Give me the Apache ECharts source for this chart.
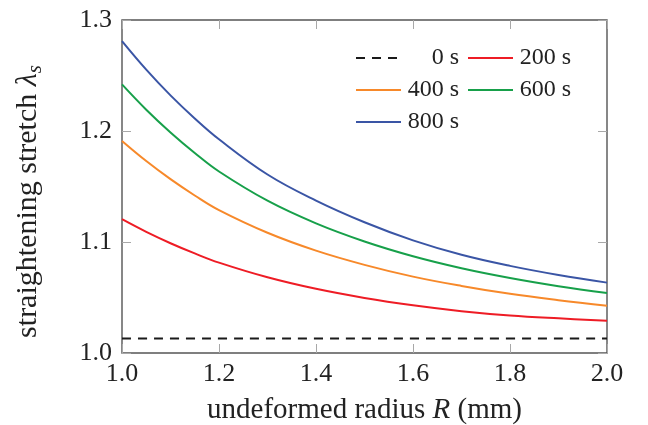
<!DOCTYPE html>
<html>
<head>
<meta charset="utf-8">
<script src="https://cdn.jsdelivr.net/npm/echarts@6/dist/echarts.min.js"></script>
<style>
  html, body { margin: 0; padding: 0; background: #fff; }
  #chart { width: 648px; height: 425px; }
</style>
</head>
<body>
<div id="chart"></div>
<script>
// Undeformed radius R (mm); denser sampling where the curves bend most
const radius = [1.0, 1.05, 1.1, 1.15, 1.2, 1.3, 1.4, 1.5, 1.6, 1.7, 1.8, 1.9, 2.0];

// Straightening stretch at each time
const stretch0s   = [1.013, 1.013, 1.013, 1.013, 1.013, 1.013, 1.013, 1.013, 1.013, 1.013, 1.013, 1.013, 1.013];
const stretch200s = [1.1205, 1.1091, 1.0989, 1.0897, 1.0814, 1.0682, 1.0578, 1.0496, 1.0430, 1.0377, 1.0338, 1.0312, 1.0291];
const stretch400s = [1.191, 1.1729, 1.1566, 1.1419, 1.1287, 1.1083, 1.0922, 1.0794, 1.0688, 1.0604, 1.0533, 1.0476, 1.0426];
const stretch600s = [1.242, 1.2192, 1.1987, 1.1802, 1.1635, 1.1372, 1.1168, 1.1005, 1.0872, 1.0764, 1.0676, 1.0602, 1.0540];
const stretch800s = [1.281, 1.2553, 1.2321, 1.2113, 1.1925, 1.1608, 1.1373, 1.1178, 1.1015, 1.0885, 1.0785, 1.0703, 1.0634];

const seriesNames = ['0 s', '200 s', '400 s', '600 s', '800 s'];
const xTicks = [1.0, 1.2, 1.4, 1.6, 1.8, 2.0];
const yTicks = [1.0, 1.1, 1.2, 1.3];

const serif = "'Liberation Serif', 'DejaVu Serif', serif";
const textColor = '#222';

const pairs = (ys) => radius.map((r, i) => [r, ys[i]]);

function lineSeries(name, ys, color, dashed) {
  return {
    name: name,
    type: 'line',
    data: pairs(ys),
    symbol: 'none',
    smooth: 0.4,
    lineStyle: { color: color, width: 2, type: dashed ? [9, 7] : 'solid' },
    itemStyle: { color: color },
    emphasis: { disabled: true },
    z: 3
  };
}

const tickStyle = { inside: true, length: 9, lineStyle: { color: '#a8a8a8', width: 1 } };

const nameFont = { fontFamily: serif, fontSize: 29, color: textColor };
const yNameFont = { fontFamily: serif, fontSize: 30, color: textColor };

const chart = echarts.init(document.getElementById('chart'), null, { renderer: 'canvas' });

chart.setOption({
  animation: false,
  backgroundColor: '#fff',
  grid: {
    left: 122, right: 41, top: 20, bottom: 72,
    outerBoundsMode: 'none',
    show: true, borderColor: '#555', borderWidth: 1.4, backgroundColor: 'transparent'
  },
  legend: {
    data: seriesNames,
    orient: 'horizontal',
    left: 355, top: 46, width: 216,
    padding: 0,
    itemWidth: 45, itemHeight: 22, itemGap: 8,
    selectedMode: false,
    itemStyle: { opacity: 0 },
    formatter: (name) => '{t|' + name + '}',
    textStyle: {
      fontFamily: serif, fontSize: 24, color: textColor,
      rich: { t: { width: 53, align: 'right', fontFamily: serif, fontSize: 24, lineHeight: 22, color: textColor } }
    }
  },
  xAxis: [
    {
      type: 'value', position: 'bottom', min: 1.0, max: 2.0, interval: 0.2,
      axisLine: { show: false },
      axisTick: tickStyle,
      splitLine: { show: false },
      axisLabel: {
        margin: 8, fontFamily: serif, fontSize: 26, color: textColor,
        formatter: (v) => xTicks.some(t => Math.abs(t - v) < 1e-9) ? v.toFixed(1) : ''
      },
      name: '{n|undeformed radius }{i|R}{n| (mm)}',
      nameLocation: 'middle', nameGap: 42,
      nameTextStyle: Object.assign({}, nameFont, {
        lineHeight: 30,
        rich: {
          n: Object.assign({}, nameFont, { lineHeight: 30 }),
          i: Object.assign({}, nameFont, { fontStyle: 'italic', lineHeight: 30 })
        }
      })
    },
    {
      type: 'value', position: 'top', min: 1.0, max: 2.0, interval: 0.2,
      axisLine: { show: false }, axisTick: tickStyle,
      axisLabel: { show: false }, splitLine: { show: false }
    }
  ],
  yAxis: [
    {
      type: 'value', position: 'left', min: 1.0, max: 1.3, interval: 0.1,
      axisLine: { show: false },
      axisTick: tickStyle,
      splitLine: { show: false },
      axisLabel: {
        margin: 10, fontFamily: serif, fontSize: 26, color: textColor,
        formatter: (v) => yTicks.some(t => Math.abs(t - v) < 1e-9) ? v.toFixed(1) : ''
      },
      name: '{n|straightening stretch }{l|λ}{s|s}',
      nameLocation: 'middle', nameGap: 76,
      nameTextStyle: Object.assign({}, yNameFont, {
        lineHeight: 36,
        padding: [0, 30, 0, 0],
        rich: {
          n: Object.assign({}, yNameFont, { lineHeight: 36 }),
          l: Object.assign({}, yNameFont, { fontStyle: 'italic', lineHeight: 36 }),
          s: Object.assign({}, yNameFont, { fontSize: 21, fontStyle: 'italic', lineHeight: 24, verticalAlign: 'bottom' })
        }
      })
    },
    {
      type: 'value', position: 'right', min: 1.0, max: 1.3, interval: 0.1,
      axisLine: { show: false }, axisTick: tickStyle,
      axisLabel: { show: false }, splitLine: { show: false }
    }
  ],
  series: [
    lineSeries('0 s', stretch0s, '#1a1a1a', true),
    lineSeries('200 s', stretch200s, '#ee1c25', false),
    lineSeries('400 s', stretch400s, '#f7892a', false),
    lineSeries('600 s', stretch600s, '#17a04a', false),
    lineSeries('800 s', stretch800s, '#3a55a5', false)
  ]
});
</script>
</body>
</html>
